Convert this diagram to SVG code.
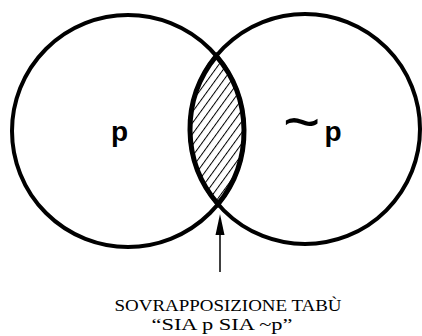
<svg xmlns="http://www.w3.org/2000/svg" width="422" height="336" viewBox="0 0 422 336">
<style>
.c{fill:none;stroke:#000;stroke-width:4}
.lens{fill:url(#hatch);stroke:#000;stroke-width:5}
.lbl{font-family:"Liberation Sans",Arial,sans-serif;font-weight:bold;fill:#000}
.cap{font-family:"Liberation Serif","Times New Roman",serif;fill:#000;text-anchor:middle}
</style>
<defs>
<pattern id="hatch" width="6.5" height="6.5" patternUnits="userSpaceOnUse" patternTransform="rotate(36)">
<rect width="6.5" height="6.5" fill="#fff"/>
<line x1="0" y1="0" x2="0" y2="6.5" stroke="#000" stroke-width="2"/>
</pattern>
</defs>
<rect width="422" height="336" fill="#fff"/>
<g id="circle-p"><circle class="c" cx="128" cy="131" r="116"/></g>
<g id="circle-notp"><circle class="c" cx="305" cy="129" r="115"/></g>
<g id="overlap"><path class="lens" d="M216.3 55.8 A115 115 0 0 0 218 204.2 A116 116 0 0 0 216.3 55.8 Z"/></g>
<g id="label-p"><text class="lbl" x="111" y="141" font-size="28">p</text></g>
<g id="label-notp"><text class="lbl" x="283" y="141" font-size="28"><tspan font-size="64" font-weight="normal" dy="3">~</tspan><tspan dx="4" dy="-3">p</tspan></text></g>
<g id="connectors">
<line x1="220" y1="232" x2="220" y2="272" stroke="#000" stroke-width="1.5"/>
<polygon points="220,214 215.5,235 224.5,235" fill="#000"/>
</g>
<g id="caption">
<text class="cap" x="228" y="311" font-size="17" textLength="227" lengthAdjust="spacingAndGlyphs">SOVRAPPOSIZIONE TABÙ</text>
<text class="cap" x="222" y="330" font-size="17" textLength="141" lengthAdjust="spacingAndGlyphs">“SIA p SIA ~p”</text>
</g>
</svg>
